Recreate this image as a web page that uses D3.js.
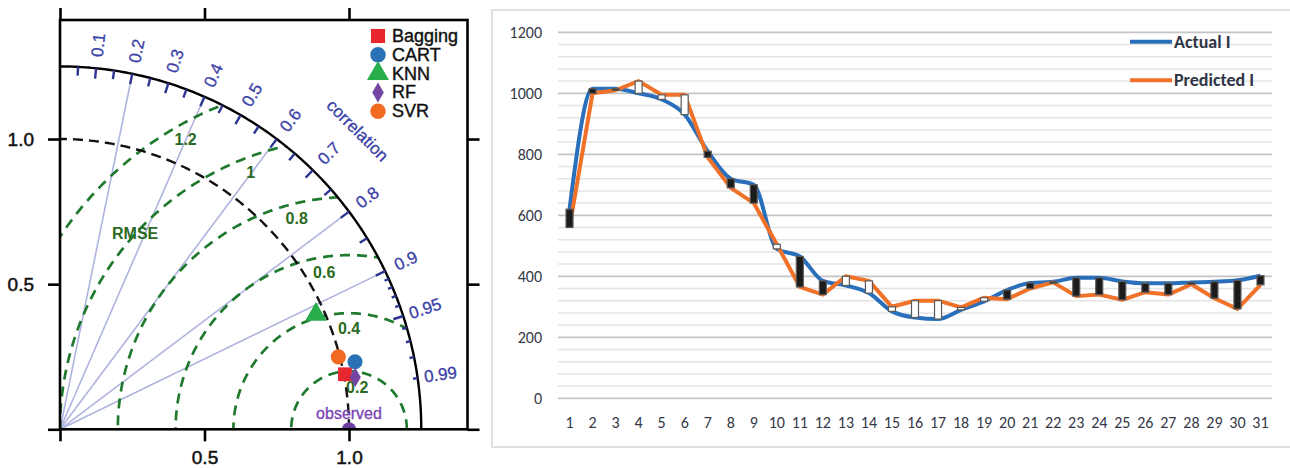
<!DOCTYPE html>
<html lang="en">
<head>
<meta charset="UTF-8">
<title>Taylor diagram and Actual vs Predicted</title>
<style>
  body, html { margin: 0; padding: 0; background: #fff; }
  svg { display: block; }
</style>
</head>
<body>
<svg id="svg" width="1290" height="468"></svg>
<script src="https://d3js.org/d3.v7.min.js"></script>
<script>
// ----- DATA ----------
// left: Taylor diagram
const models = ['Bagging', 'CART', 'KNN', 'RF', 'SVR']
const modelStd = [1.004, 1.047, 0.970, 1.037, 0.995]
const modelCorr = [0.982, 0.975, 0.913, 0.985, 0.968]
const observedStd = 1.0
const maxStd = 1.25
const rmseLevels = [0.2, 0.4, 0.6, 0.8, 1, 1.2]
const corrLines = [0.2, 0.4, 0.6, 0.8, 0.9]
const corrLabels = [0.1, 0.2, 0.3, 0.4, 0.5, 0.6, 0.7, 0.8, 0.9, 0.95, 0.99]
const stdTicks = [0, 0.5, 1.0]

// right: actual vs predicted
const days = [1, 2, 3, 4, 5, 6, 7, 8, 9, 10, 11, 12, 13, 14, 15, 16, 17, 18, 19, 20, 21, 22, 23, 24, 25, 26, 27, 28, 29, 30, 31]
const actual = [620, 1015, 1015, 1000, 980, 930, 810, 720, 700, 490, 465, 385, 370, 345, 285, 265, 260, 290, 318, 355, 378, 382, 395, 395, 383, 377, 377, 380, 382, 387, 402]
const predicted = [560, 1000, 1010, 1040, 995, 995, 790, 690, 640, 505, 365, 340, 400, 385, 300, 320, 320, 298, 330, 325, 360, 380, 335, 340, 323, 348, 340, 374, 328, 293, 372]
const valueTicks = [0, 200, 400, 600, 800, 1000, 1200]
const seriesNames = ['Actual I', 'Predicted I']

const svg = d3.select('#svg')
const defs = svg.append('defs')

// ================= TAYLOR DIAGRAM =================
function drawTaylor() {
    const tx = d3.scaleLinear().domain([0, 1.41]).range([60, 467.5])
    const ty = d3.scaleLinear().domain([0, 1.41]).range([429.3, 20])
    const polar = (r, a) => [tx(r * Math.cos(a)), ty(r * Math.sin(a))]
    const line = d3.line()
    const angles = d3.range(0, 90.5, 0.5).map(d => d * Math.PI / 180)
    const halfAngles = d3.range(0, 180.5, 0.5).map(d => d * Math.PI / 180)
    const font = 'Liberation Sans, Arial, sans-serif'

    const color = d3.scaleOrdinal()
        .domain(models)
        .range(['#e8262d', '#2a72b5', '#27ae4a', '#7445a3', '#f26a22'])
    const shape = d3.scaleOrdinal()
        .domain(models)
        .range([d3.symbolSquare, d3.symbolCircle, d3.symbolTriangle, d3.symbolDiamond, d3.symbolCircle])
    const shapeSize = d3.scaleOrdinal()
        .domain(models)
        .range([190, 180, 200, 110, 180])

    // clip: inside outer arc
    defs.append('clipPath').attr('id', 'quarter')
        .append('path')
        .attr('d', line([polar(0, 0)].concat(angles.map(a => polar(maxStd, a)))) + 'Z')
    defs.append('clipPath').attr('id', 'taylorBox')
        .append('rect')
        .attr('x', tx(0)).attr('y', ty(1.41))
        .attr('width', tx(1.41) - tx(0)).attr('height', ty(0) - ty(1.41))

    const g = svg.append('g')

    // correlation rays
    g.selectAll('.ray')
        .data(corrLines)
        .enter()
        .append('line')
        .attr('x1', tx(0)).attr('y1', ty(0))
        .attr('x2', d => polar(maxStd, Math.acos(d))[0])
        .attr('y2', d => polar(maxStd, Math.acos(d))[1])
        .attr('stroke', '#aeb3df')
        .attr('stroke-width', 1.6)

    // RMSE contours around observed point
    const contours = g.append('g').attr('clip-path', 'url(#quarter)')
    contours.selectAll('path')
        .data(rmseLevels)
        .enter()
        .append('path')
        .attr('d', r => line(halfAngles.map(a => [tx(observedStd + r * Math.cos(a)), ty(r * Math.sin(a))])))
        .attr('fill', 'none')
        .attr('stroke', '#1f7a2e')
        .attr('stroke-width', 2.7)
        .attr('stroke-dasharray', '10,7')

    // RMSE labels
    const labelAngle = { 0.2: 79, 0.4: 90, 0.6: 99, 0.8: 104, 1: 111, 1.2: 119.5 }
    g.selectAll('.rmseLabel')
        .data(rmseLevels)
        .enter()
        .append('text')
        .attr('x', r => tx(observedStd + (r - 0.052) * Math.cos(labelAngle[r] * Math.PI / 180)))
        .attr('y', r => ty((r - 0.052) * Math.sin(labelAngle[r] * Math.PI / 180)))
        .attr('text-anchor', 'middle')
        .attr('dominant-baseline', 'central')
        .style('font-family', font)
        .style('font-weight', 'bold')
        .style('font-size', '16px')
        .attr('fill', '#2b6a22')
        .text(d => d)
    g.append('text')
        .attr('x', tx(0.26)).attr('y', ty(0.675))
        .attr('text-anchor', 'middle')
        .attr('dominant-baseline', 'central')
        .style('font-family', font)
        .style('font-weight', 'bold')
        .style('font-size', '16px')
        .attr('fill', '#2b6a22')
        .text('RMSE')

    // reference std arc (dashed black)
    g.append('path')
        .attr('d', line(angles.map(a => polar(observedStd, a))))
        .attr('fill', 'none')
        .attr('stroke', '#111')
        .attr('stroke-width', 2.4)
        .attr('stroke-dasharray', '10,6')

    // outer arc
    g.append('path')
        .attr('d', line(angles.map(a => polar(maxStd, a))))
        .attr('fill', 'none')
        .attr('stroke', '#000')
        .attr('stroke-width', 2.4)

    // correlation ticks on the outer arc
    const tickVals = d3.range(1, 19).map(i => i * 0.05).concat(d3.range(91, 100).map(i => i / 100))
    g.selectAll('.ctick')
        .data(tickVals)
        .enter()
        .append('line')
        .each(function (c) {
            const a = Math.acos(c)
            const big = Math.abs(c * 10 - Math.round(c * 10)) < 1e-6 || Math.abs(c - 0.95) < 1e-6
            const small = c > 0.905
            const len = small && !big ? 0.016 : (big ? 0.036 : 0.03)
            const p0 = polar(maxStd, a), p1 = polar(maxStd - len, a)
            d3.select(this)
                .attr('x1', p0[0]).attr('y1', p0[1])
                .attr('x2', p1[0]).attr('y2', p1[1])
        })
        .attr('stroke', '#2c3590')
        .attr('stroke-width', 2.4)

    // correlation labels
    g.selectAll('.clabel')
        .data(corrLabels)
        .enter()
        .append('text')
        .attr('transform', c => {
            const a = Math.acos(c)
            const p = polar(1.33, a)
            return `translate(${p[0]}, ${p[1]}) rotate(${-a * 180 / Math.PI})`
        })
        .attr('text-anchor', 'middle')
        .attr('dominant-baseline', 'central')
        .style('font-family', font)
        .style('font-size', '17px')
        .attr('fill', '#3b42a8')
        .attr('stroke', '#3b42a8')
        .attr('stroke-width', 0.3)
        .text(d => d)

    const cp = polar(1.455, Math.PI / 4)
    g.append('text')
        .attr('transform', `translate(${cp[0]}, ${cp[1]}) rotate(45)`)
        .attr('text-anchor', 'middle')
        .attr('dominant-baseline', 'central')
        .style('font-family', font)
        .style('font-size', '17px')
        .attr('fill', '#3b42a8')
        .attr('stroke', '#3b42a8')
        .attr('stroke-width', 0.3)
        .text('correlation')

    // observed
    g.append('circle')
        .attr('clip-path', 'url(#taylorBox)')
        .attr('cx', tx(observedStd)).attr('cy', ty(0))
        .attr('r', 7)
        .attr('fill', '#6a3fa0')
    g.append('text')
        .attr('x', tx(observedStd)).attr('y', ty(0.055))
        .attr('text-anchor', 'middle')
        .attr('dominant-baseline', 'central')
        .style('font-family', font)
        .style('font-size', '16px')
        .attr('fill', '#7a44b3')
        .attr('stroke', '#7a44b3')
        .attr('stroke-width', 0.3)
        .text('observed')

    // model points
    g.selectAll('.model')
        .data(models)
        .enter()
        .append('path')
        .attr('d', m => d3.symbol().type(shape(m)).size(shapeSize(m))())
        .attr('transform', (m, i) => {
            const p = polar(modelStd[i], Math.acos(modelCorr[i]))
            return `translate(${p[0]}, ${p[1]})`
        })
        .attr('fill', m => color(m))

    // frame + axes
    g.append('rect')
        .attr('x', tx(0)).attr('y', ty(1.41))
        .attr('width', tx(1.41) - tx(0)).attr('height', ty(0) - ty(1.41))
        .attr('fill', 'none')
        .attr('stroke', '#000')
        .attr('stroke-width', 2.6)

    const fmt = d => d === 0 ? '' : d3.format('.1f')(d)
    const axes = [
        [d3.axisBottom(tx).tickFormat(fmt).tickPadding(9), `translate(0, ${ty(0)})`],
        [d3.axisTop(tx).tickFormat(''), `translate(0, ${ty(1.41)})`],
        [d3.axisLeft(ty).tickFormat(fmt).tickPadding(14), `translate(${tx(0)}, 0)`],
        [d3.axisRight(ty).tickFormat(''), `translate(${tx(1.41)}, 0)`]
    ]
    axes.forEach(([ax, tr]) => {
        const a = g.append('g')
            .attr('transform', tr)
            .call(ax.tickValues(stdTicks).tickSize(12).tickSizeOuter(0))
        a.select('.domain').remove()
        a.selectAll('line').attr('stroke', '#000').attr('stroke-width', 2.6)
        a.selectAll('text')
            .style('font-family', font)
            .style('font-size', '19px')
            .attr('fill', '#111')
            .attr('stroke', '#111')
            .attr('stroke-width', 0.5)
    })

    // legend
    const legend = g.append('g')
    models.forEach((m, i) => {
        const yy = 36 + i * 18.8
        legend.append('path')
            .attr('d', d3.symbol().type(shape(m)).size(shapeSize(m) * 1.05)())
            .attr('transform', `translate(378, ${yy})`)
            .attr('fill', color(m))
        legend.append('text')
            .attr('x', 392).attr('y', yy)
            .attr('dominant-baseline', 'central')
            .style('font-family', font)
            .style('font-size', '18px')
            .attr('fill', '#111')
            .attr('stroke', '#111')
            .attr('stroke-width', 0.4)
            .text(m)
    })
}

// ================= LINE CHART =================
function drawLines() {
    const chartFont = 'Carlito, Lato, sans-serif'
    const x = d3.scaleBand().domain(days).range([558, 1272])
    const y = d3.scaleLinear().domain([0, 1200]).range([398.3, 32.3])
    const cx = d => x(d) + x.bandwidth() / 2

    const g = svg.append('g')

    // outer border
    g.append('rect')
        .attr('x', 492).attr('y', 10)
        .attr('width', 800).attr('height', 437)
        .attr('fill', 'none')
        .attr('stroke', '#d6d6d6')
        .attr('stroke-width', 1.5)

    // gridlines: minor every 40, major every 200
    const minor = d3.range(0, 1201, 40).filter(v => v % 200 !== 0)
    g.selectAll('.minor')
        .data(minor)
        .enter()
        .append('line')
        .attr('x1', 558).attr('x2', 1272)
        .attr('y1', d => y(d)).attr('y2', d => y(d))
        .attr('stroke', '#e4e4e4')
        .attr('stroke-width', 1.5)
    g.selectAll('.major')
        .data(valueTicks)
        .enter()
        .append('line')
        .attr('x1', 558).attr('x2', 1272)
        .attr('y1', d => y(d)).attr('y2', d => y(d))
        .attr('stroke', '#c4c4c4')
        .attr('stroke-width', 1.8)

    // axes
    const leftAxis = g.append('g')
        .attr('transform', 'translate(558, 0)')
        .call(d3.axisLeft(y).tickValues(valueTicks).tickFormat(d3.format('d')).tickSize(0).tickPadding(16))
    const bottomAxis = g.append('g')
        .attr('transform', `translate(0, ${y(0)})`)
        .call(d3.axisBottom(x).tickSize(0).tickPadding(18))
    ;[leftAxis, bottomAxis].forEach(a => {
        a.select('.domain').remove()
        a.selectAll('text')
            .style('font-family', chartFont)
            .style('font-size', '16px')
            .attr('fill', '#343847')
    })

    // lines
    const actualLine = d3.line()
        .x((d, i) => cx(days[i]))
        .y(d => y(d))
        .curve(d3.curveMonotoneX)
    const predLine = d3.line()
        .x((d, i) => cx(days[i]))
        .y(d => y(d))

    g.append('path')
        .attr('d', actualLine(actual))
        .attr('fill', 'none')
        .attr('stroke', '#2a6fbb')
        .attr('stroke-width', 4)
    g.append('path')
        .attr('d', predLine(predicted))
        .attr('fill', 'none')
        .attr('stroke', '#f07228')
        .attr('stroke-width', 4)
        .attr('stroke-linejoin', 'round')

    // up / down bars
    g.selectAll('.updown')
        .data(days)
        .enter()
        .append('rect')
        .attr('x', d => cx(d) - 3.5)
        .attr('width', 7)
        .attr('y', (d, i) => y(Math.max(actual[i], predicted[i])))
        .attr('height', (d, i) => Math.max(1.5, Math.abs(y(actual[i]) - y(predicted[i]))))
        .attr('fill', (d, i) => actual[i] > predicted[i] ? '#1b1b1b' : '#fff')
        .attr('stroke', '#5a5a5a')
        .attr('stroke-width', 1.2)

    // legend
    const legendColors = ['#2a6fbb', '#f07228']
    seriesNames.forEach((s, i) => {
        const yy = 41.7 + i * 38.5
        g.append('line')
            .attr('x1', 1130).attr('x2', 1172)
            .attr('y1', yy).attr('y2', yy)
            .attr('stroke', legendColors[i])
            .attr('stroke-width', 4)
        g.append('text')
            .attr('x', 1174).attr('y', yy)
            .attr('dominant-baseline', 'central')
            .style('font-family', chartFont)
            .style('font-weight', 'bold')
            .style('font-size', '18px')
            .attr('fill', '#2f3546')
            .text(s)
    })
}

drawTaylor()
drawLines()
</script>
</body>
</html>
